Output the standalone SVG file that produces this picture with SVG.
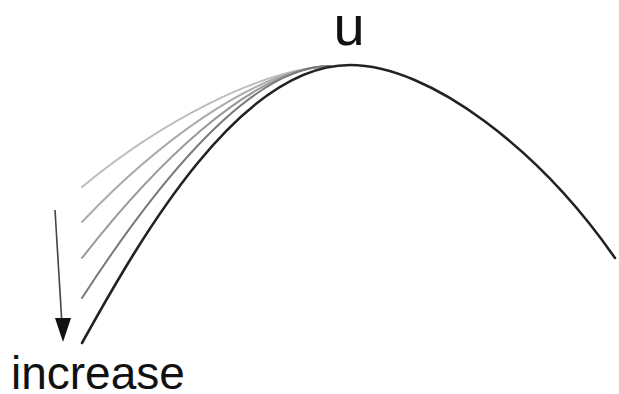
<svg xmlns="http://www.w3.org/2000/svg" width="619" height="394" viewBox="0 0 619 394">
  <defs>
    <style>
      .fam { fill: none; stroke-width: 2; stroke-linecap: round; }
      .main { fill: none; stroke: #222; stroke-width: 2.6; stroke-linecap: round; }
      .lbl { font-family: "Liberation Sans", Arial, sans-serif; fill: #111; }
    </style>
  </defs>
  <rect width="619" height="394" fill="#fff"/>
  <g id="family">
    <path class="fam" stroke="#bdbdbd" d="M82,187 C158,124 258,70 330,66"/>
    <path class="fam" stroke="#ababab" d="M82,222 C152,148 253,69 330,66"/>
    <path class="fam" stroke="#999" d="M82,258 C149,172 249,68 330,66"/>
    <path class="fam" stroke="#7a7a7a" d="M82,298 C145,201 245,66 330,66"/>
  </g>
  <g id="utility-curve">
    <path class="main" d="M82,343 C142,235 240,65 350,65 C430,65 540,150 615,258"/>
  </g>
  <g id="connectors">
    <path d="M55,210 L62.5,333" stroke="#444" stroke-width="1.6" fill="none"/>
    <path d="M55,318 L71,318 L63,342 z" fill="#111"/>
  </g>
  <g id="label-u">
    <text class="lbl" x="349" y="45" font-size="56" text-anchor="middle">u</text>
  </g>
  <g id="label-increase">
    <text class="lbl" x="11" y="389" font-size="46">increase</text>
  </g>
</svg>
